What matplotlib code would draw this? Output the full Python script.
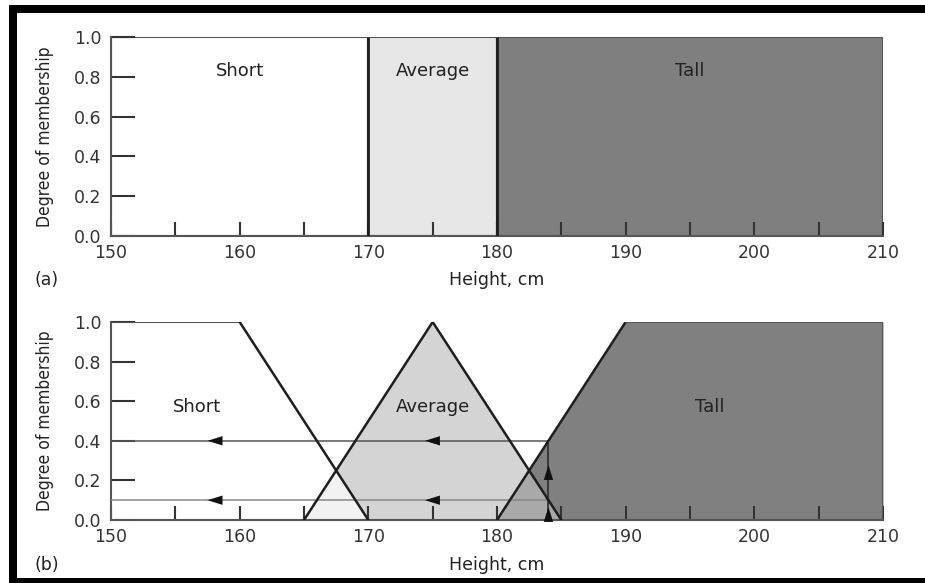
import numpy as np
import matplotlib
matplotlib.use("Agg")
import matplotlib.pyplot as plt
from matplotlib.patches import Rectangle
from matplotlib.ticker import MultipleLocator

# ---------------- data ----------------
x_range = [150, 210]
x_ticks = [150, 160, 170, 180, 190, 200, 210]
y_ticks = [0.0, 0.2, 0.4, 0.6, 0.8, 1.0]
categories = ["Short", "Average", "Tall"]

# (a) crisp sets: [start, end]
crisp_short = [150, 170]
crisp_avg = [170, 180]
crisp_tall = [180, 210]

# (b) fuzzy sets: breakpoints
short_x = [150, 160, 170]
short_y = [1.0, 1.0, 0.0]
avg_x = [165, 175, 185]
avg_y = [0.0, 1.0, 0.0]
tall_x = [180, 190, 210]
tall_y = [0.0, 1.0, 1.0]

input_height = 184
mu_tall = 0.4
mu_avg = 0.1

label_pos_a = {"Short": (160, 0.83), "Average": (175, 0.83), "Tall": (195, 0.83)}
label_pos_b = {"Short": (156.7, 0.57), "Average": (175, 0.57), "Tall": (196.5, 0.57)}

# ---------------- styling ----------------
W, H = 925, 583
fig = plt.figure(figsize=(W / 100, H / 100), dpi=100)
fig.patch.set_facecolor("white")

LINE = "#1e1e1e"
EDGE = "#555555"
TXT = "#222222"
tick_font = dict(family="DejaVu Sans", size=12.5)


def px_axes(x0, y0, x1, y1):
    return fig.add_axes([x0 / W, 1 - y1 / H, (x1 - x0) / W, (y1 - y0) / H])


def style_axes(ax, xlabel_y):
    ax.set_xlim(*x_range)
    ax.set_ylim(0, 1)
    for s in ["top", "right"]:
        ax.spines[s].set_visible(False)
    for s in ["left", "bottom"]:
        ax.spines[s].set_color(EDGE)
        ax.spines[s].set_linewidth(1.5)
    ax.set_xticks(x_ticks)
    ax.set_xticklabels([str(v) for v in x_ticks], **tick_font, color="#333333")
    ax.xaxis.set_minor_locator(MultipleLocator(5))
    ax.set_yticks(y_ticks)
    ax.set_yticklabels([f"{v:.1f}" for v in y_ticks], **tick_font, color="#333333")
    ax.tick_params(axis="x", which="both", direction="in", length=10, width=1.5,
                   color="#333333", pad=6)
    ax.tick_params(axis="y", which="both", direction="in", length=17, width=1.5,
                   color="#333333", pad=7)
    ax.set_xlabel("Height, cm", family="DejaVu Sans", size=12.5, color=TXT, va="center")
    ax.xaxis.set_label_coords(0.5, xlabel_y)
    ax.set_ylabel("Degree of membership", family="DejaVu Sans", stretch="condensed",
                  size=12.5, color=TXT, va="center")
    ax.yaxis.set_label_coords(-0.085, 0.5)
    ax.set_facecolor("none")


# ---------------- panel (a) ----------------
axa = px_axes(111, 37, 883, 236)
style_axes(axa, -0.221)
axa.add_patch(Rectangle((crisp_short[0], 0), crisp_short[1] - crisp_short[0], 1,
                        facecolor="white", edgecolor=EDGE, lw=1.5, zorder=1))
axa.add_patch(Rectangle((crisp_avg[0], 0), crisp_avg[1] - crisp_avg[0], 1,
                        facecolor="#e6e6e6", edgecolor=EDGE, lw=1.5, zorder=1))
axa.add_patch(Rectangle((crisp_tall[0], 0), crisp_tall[1] - crisp_tall[0], 1,
                        facecolor="#7f7f7f", edgecolor=EDGE, lw=1.5, zorder=1))
axa.vlines([crisp_short[1], crisp_avg[1]], 0, 1, color=LINE, lw=2, zorder=3)
for name in categories:
    x, y = label_pos_a[name]
    axa.text(x, y, name, ha="center", va="center", family="DejaVu Sans",
             size=13, color=TXT, zorder=5)

# ---------------- panel (b) ----------------
axb = px_axes(111, 322, 883, 520)
style_axes(axb, -0.227)

xs = np.linspace(x_range[0], x_range[1], 6001)
mu_s = np.interp(xs, short_x, short_y, left=0, right=0)
mu_a = np.interp(xs, avg_x, avg_y, left=0, right=0)
mu_t = np.interp(xs, tall_x, tall_y, left=0, right=1)

axb.fill_between(xs, 0, mu_a, color="#d4d4d4", lw=0, zorder=1)
axb.fill_between(xs, 0, np.minimum(mu_s, mu_a), color="#f2f2f2", lw=0, zorder=1.1)
axb.fill_between(xs, 0, mu_t, where=xs >= tall_x[0], color="#808080", lw=0, zorder=1.2)
axb.fill_between(xs, 0, np.minimum(mu_a, mu_t), color="#a9a9a9", lw=0, zorder=1.3)

# outlines
axb.plot(short_x[:2], short_y[:2], color=EDGE, lw=1.5, zorder=3)
axb.plot(short_x[1:], short_y[1:], color=LINE, lw=1.8, zorder=3)
axb.plot(avg_x, avg_y, color=LINE, lw=1.8, zorder=3)
axb.plot(tall_x[:2], tall_y[:2], color=LINE, lw=1.8, zorder=3)
axb.plot(tall_x[1:], tall_y[1:], color=EDGE, lw=1.5, zorder=3)
axb.plot([tall_x[-1], tall_x[-1]], [0, tall_y[-1]], color=EDGE, lw=1.5, zorder=3)

# projection lines
axb.plot([x_range[0], input_height], [mu_tall, mu_tall], color="#555555", lw=1.1, zorder=2.8)
axb.plot([x_range[0], input_height], [mu_avg, mu_avg], color="#888888", lw=1.1, zorder=2.8)
axb.plot([input_height, input_height], [0, mu_tall], color="#333333", lw=1.3, zorder=2.8)

arrow_kw = dict(arrowstyle="-|>,head_length=0.9,head_width=0.28",
                color="#111111", lw=0, mutation_scale=12, shrinkA=0, shrinkB=0)
for mu in [mu_tall, mu_avg]:
    for tip in [157.5, 174.4]:
        axb.annotate("", xy=(tip, mu), xytext=(tip + 1.4, mu),
                     arrowprops=arrow_kw, zorder=4)
for tip in [0.278, 0.066]:
    axb.annotate("", xy=(input_height, tip), xytext=(input_height, tip - 0.07),
                 arrowprops=arrow_kw, zorder=4)

for name in categories:
    x, y = label_pos_b[name]
    axb.text(x, y, name, ha="center", va="center", family="DejaVu Sans",
             size=13, color=TXT, zorder=5)

# panel letters
fig.text(35 / W, 1 - 280 / H, "(a)", family="DejaVu Sans", size=12.5,
         color=TXT, va="center", ha="left")
fig.text(35 / W, 1 - 565 / H, "(b)", family="DejaVu Sans", size=12.5,
         color=TXT, va="center", ha="left")

# black frame (left, top, bottom)
for (x0, y0, w, h) in [(9, 5, 8, 578), (9, 5, 916, 8), (9, 578, 916, 5)]:
    fig.patches.append(Rectangle((x0 / W, 1 - (y0 + h) / H), w / W, h / H,
                                 transform=fig.transFigure, facecolor="black",
                                 edgecolor="none", zorder=10))

fig.savefig("out.png", dpi=100)
